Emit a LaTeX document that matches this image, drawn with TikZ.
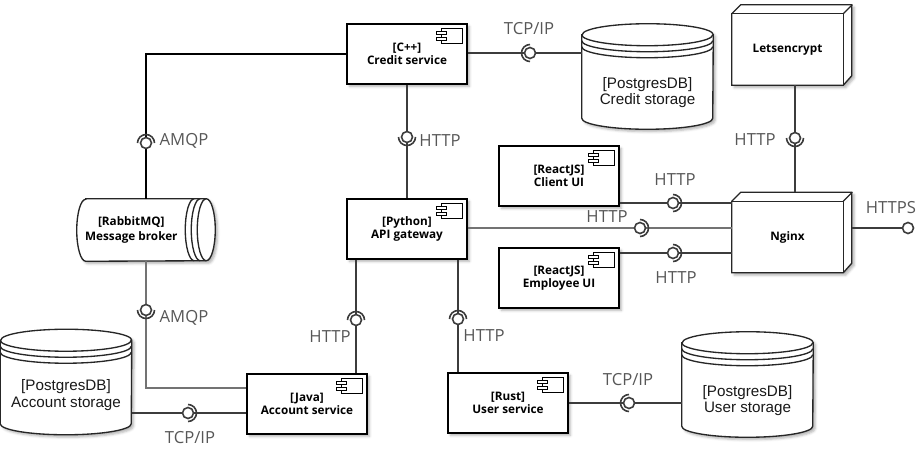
\documentclass[tikz,border=0pt]{standalone}
\usepackage{fontspec}
\setmainfont{Open Sans}
\newfontfamily\dbfont{Liberation Sans}
\usepackage{tikz}
\usetikzlibrary{positioning, shadows, shadows.blur}
\definecolor{linegray}{HTML}{3C3C3C}
\definecolor{lblgray}{HTML}{575757}
\tikzstyle{soft} = [blur shadow={shadow xshift=1.8pt, shadow yshift=-1.8pt, shadow blur radius=1.8pt, shadow opacity=30}]
\tikzstyle{component} = [rectangle, draw=black, line width=1pt, fill=white, minimum width=90pt, minimum height=45pt, align=center, inner sep=0pt, font=\bfseries\fontsize{8.8}{9.6}\selectfont, soft]
\tikzstyle{box3d} = [rectangle, minimum width=83.25pt, minimum height=53.25pt, inner sep=0pt, align=center, font=\bfseries\fontsize{8.8}{11}\selectfont]
\tikzstyle{dbspace} = [rectangle, minimum width=98.25pt, minimum height=78.75pt, inner sep=0pt]
\tikzstyle{dbtext} = [font=\dbfont\fontsize{11.4}{12.6}\selectfont, align=center, text=black!90]
\tikzstyle{outline} = [line width=1pt, draw=black!85, fill=white]
\tikzstyle{icon} = [line width=0.7pt, draw=black, fill=white]
\tikzstyle{conn} = [line width=1.5pt, draw=linegray]
\tikzstyle{ball} = [circle, draw=linegray, fill=white, line width=1.2pt, minimum size=8.25pt, inner sep=0pt]
\tikzstyle{socket} = [line width=1.2pt, draw=linegray]
\tikzstyle{lbl} = [font=\fontsize{12.5}{14}\selectfont, text=lblgray, inner sep=0pt]

\begin{document}
\begin{tikzpicture}[x=0.75pt, y=0.75pt]
    \useasboundingbox (0,0) rectangle (924,-453);

    % places of the lollipops
    \coordinate (tcpCredit) at (530,-53);
    \coordinate (httpCredit) at (407,-137);
    \coordinate (amqpTop) at (146,-143);
    \coordinate (httpLets) at (795,-138);
    \coordinate (httpClient) at (673,-203);
    \coordinate (httpApi) at (640,-228);
    \coordinate (httpEmp) at (673,-253);
    \coordinate (httpsOut) at (908,-228);
    \coordinate (amqpBot) at (146,-310);
    \coordinate (httpAcc) at (356,-320);
    \coordinate (tcpAcc) at (188,-413);
    \coordinate (httpUser) at (458,-319);
    \coordinate (tcpUser) at (629,-403);

    % databases
    \node[dbspace] (creditDB) at (647.5,-76.5) {};
    \node[dbspace] (accountDB) at (66,-382) {};
    \node[dbspace] (userDB) at (747.5,-384.5) {};
    \foreach \n in {creditDB, accountDB, userDB} {
        \filldraw[outline, soft] ([yshift=-8.25pt]\n.north west) -- ([yshift=8.25pt]\n.south west)
            arc[start angle=180, end angle=360, x radius=65.5, y radius=11]
            -- ([yshift=-8.25pt]\n.north east)
            arc[start angle=0, end angle=180, x radius=65.5, y radius=11] -- cycle;
        \draw[outline, fill=none] ([yshift=-8.25pt]\n.north west) arc[start angle=180, end angle=360, x radius=65.5, y radius=11];
        \draw[outline, fill=none] ([yshift=-12.75pt]\n.north west) arc[start angle=180, end angle=360, x radius=65.5, y radius=11];
        \draw[outline, fill=none] ([yshift=-17.25pt]\n.north west) arc[start angle=180, end angle=360, x radius=65.5, y radius=11];
    }
    \node[dbtext] (creditDBtxt) at ([yshift=-12pt]creditDB.center) {[PostgresDB]\\Credit storage};
    \node[dbtext] (accountDBtxt) at ([yshift=-10pt]accountDB.center) {[PostgresDB]\\Account storage};
    \node[dbtext] (userDBtxt) at ([yshift=-12pt]userDB.center) {[PostgresDB]\\User storage};

    % message broker
    \node[rectangle, minimum width=103.5pt, minimum height=46.5pt, inner sep=0pt] (rabbit) at (146,-230) {};
    \filldraw[outline, soft] ([xshift=6.75pt]rabbit.north west) -- ([xshift=-6.75pt]rabbit.north east)
        arc[start angle=90, end angle=-90, x radius=9, y radius=31]
        -- ([xshift=6.75pt]rabbit.south west)
        arc[start angle=270, end angle=90, x radius=9, y radius=31] -- cycle;
    \draw[outline, fill=none] ([xshift=-6.75pt]rabbit.north east) arc[start angle=90, end angle=270, x radius=9, y radius=31];
    \draw[outline, fill=none] ([xshift=-11.25pt]rabbit.north east) arc[start angle=90, end angle=270, x radius=9, y radius=31];
    \draw[outline, fill=none] ([xshift=-15.75pt]rabbit.north east) arc[start angle=90, end angle=270, x radius=9, y radius=31];
    \node[box3d] (rabbitTxt) at ([xshift=-11pt]rabbit.center) {[RabbitMQ]\\Message broker};

    % components
    \node[component] (credit) at (407,-54) {[C++]\\Credit service};
    \node[component] (api) at (407,-229) {[Python]\\API gateway};
    \node[component] (clientUI) at (559,-176) {[ReactJS]\\Client UI};
    \node[component] (empUI) at (559,-278) {[ReactJS]\\Employee UI};
    \node[component] (account) at (307,-404) {[Java]\\Account service};
    \node[component] (user) at (508,-403) {[Rust]\\User service};
    \foreach \n in {credit, api, clientUI, empUI, account, user} {
        \draw[icon] ([shift={(-26,-5)}]\n.north east) rectangle ++(21,-15);
        \draw[icon] ([shift={(-31,-8)}]\n.north east) rectangle ++(10,-3.5);
        \draw[icon] ([shift={(-31,-14)}]\n.north east) rectangle ++(10,-3.5);
    }

    % nodes
    \node[box3d] (lets) at (787.5,-49.5) {};
    \node[box3d] (nginx) at (787.5,-237) {};
    \foreach \n in {lets, nginx} {
        \filldraw[outline, soft] (\n.north west) -- ++(9,9) -- ++(111,0) -- ++(0,-71) -- (\n.south east) -- (\n.south west) -- cycle;
        \draw[outline, fill=none] (\n.north west) rectangle (\n.south east);
        \draw[outline, fill=none] (\n.north east) -- ++(9,9);
    }
    \node[box3d] (letsTxt) at (lets.center) {Letsencrypt};
    \node[box3d] (nginxTxt) at (nginx.center) {Nginx};
    \coordinate (nginxTop) at ([yshift=6.75pt]nginx.north);
    \coordinate (nginxSide) at ([xshift=6.75pt]nginx.east);

    % connectors
    \draw[conn] (tcpCredit -| credit.east) -- (tcpCredit -| creditDB.west);
    \draw[conn] (credit.south) -- (api.north);
    \draw[conn, draw=black] (credit.west) -| (rabbit.north);
    \draw[conn, draw=black!55, line width=1.1pt] (rabbit.south) |- ([yshift=12pt]account.west);
    \draw[conn] (tcpAcc -| accountDB.east) -- (tcpAcc -| account.west);
    \draw[conn] (httpAcc |- api.south) -- (httpAcc |- account.north);
    \draw[conn] (httpUser |- api.south) -- (httpUser |- user.north);
    \draw[conn] (tcpUser -| user.east) -- (tcpUser -| userDB.west);
    \draw[conn] (httpClient -| clientUI.east) -- (httpClient -| nginx.west);
    \draw[conn, draw=black!55, line width=1.1pt] (httpApi -| api.east) -- (httpApi -| nginx.west);
    \draw[conn] (httpEmp -| empUI.east) -- (httpEmp -| nginx.west);
    \draw[conn] (httpLets |- lets.south) -- (httpLets |- nginxTop);
    \draw[conn] (httpsOut -| nginxSide) -- (httpsOut);

    % sockets and balls
    \foreach \b/\a in {tcpCredit/90, httpCredit/180, amqpTop/0, httpLets/180, httpClient/-90, httpApi/-90, httpEmp/-90, amqpBot/180, httpAcc/0, tcpAcc/-90, httpUser/0, tcpUser/90}
        \draw[socket] ([shift={(\a:8.5)}]\b) arc[start angle=\a, end angle=\a+180, radius=8.5];
    \foreach \b in {tcpCredit, httpCredit, amqpTop, httpLets, httpClient, httpApi, httpEmp, httpsOut, amqpBot, httpAcc, tcpAcc, httpUser, tcpUser}
        \node[ball] (\b-b) at (\b) {};

    % labels
    \node[lbl] (tcpCreditLbl) at (529,-29) {TCP/IP};
    \node[lbl] (httpCreditLbl) at (440,-141) {HTTP};
    \node[lbl] (amqpTopLbl) at (184,-141) {AMQP};
    \node[lbl] (httpLetsLbl) at (755,-140) {HTTP};
    \node[lbl] (httpClientLbl) at (675,-180) {HTTP};
    \node[lbl] (httpApiLbl) at (607,-217) {HTTP};
    \node[lbl] (httpEmpLbl) at (676,-278) {HTTP};
    \node[lbl] (httpsLbl) at (891,-208) {HTTPS};
    \node[lbl] (amqpBotLbl) at (184,-318) {AMQP};
    \node[lbl] (httpAccLbl) at (330,-337) {HTTP};
    \node[lbl] (tcpAccLbl) at (190,-438) {TCP/IP};
    \node[lbl] (httpUserLbl) at (484,-336) {HTTP};
    \node[lbl] (tcpUserLbl) at (628,-380) {TCP/IP};
\end{tikzpicture}
\end{document}
